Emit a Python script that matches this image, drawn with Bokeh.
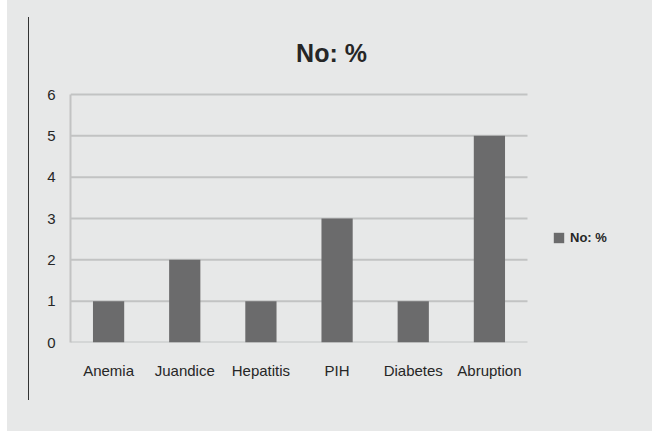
from bokeh.plotting import figure
from bokeh.models import (ColumnDataSource, Range1d, FixedTicker, Legend,
                          LegendItem, Label)
from bokeh.embed import file_html
from bokeh.resources import INLINE

# Data
categories = ["Anemia", "Juandice", "Hepatitis", "PIH", "Diabetes", "Abruption"]
values = [1, 2, 1, 3, 1, 5]
y_ticks = [0, 1, 2, 3, 4, 5, 6]
series_name = "No: %"

BG = "#e7e8e8"
GRID = "#c2c3c3"
BAR = "#6b6b6c"
TEXT = "#262626"
FONT = "Liberation Sans"

positions = list(range(len(categories)))
src = ColumnDataSource(dict(x=positions, val=values))

# geometry (pixels): the bar area is 457 px wide and 248 px tall, the
# drawing frame runs on to the right edge and up to the top of the figure
FIG_W, FIG_H = 652, 431
LEFT, BOTTOM = 70, 89
AREA_W, AREA_H = 457, 248
frame_w = FIG_W - LEFT
frame_h = FIG_H - BOTTOM
n = len(categories)
x_lo = -0.5
x_hi = x_lo + n * frame_w / AREA_W
y_top = y_ticks[-1] * frame_h / AREA_H

p = figure(width=FIG_W, height=FIG_H,
           x_range=Range1d(x_lo, x_hi), y_range=Range1d(0, y_top),
           output_backend="svg", toolbar_location=None,
           min_border_left=LEFT, min_border_right=0,
           min_border_top=0, min_border_bottom=BOTTOM)
# page background: white margin, thin dark rule on the left, grey panel
p.styles = {"background": "linear-gradient(#333333, #333333) 28px 17px / 1px 383px no-repeat, "
                          "linear-gradient(#ffffff, #ffffff) 0 0 / 7px 100% no-repeat, " + BG}
p.background_fill_color = None
p.border_fill_color = None
p.outline_line_color = None
p.grid.visible = False

# horizontal value lines across the category area
p.segment(x0=[x_lo] * len(y_ticks), x1=[x_lo + n] * len(y_ticks),
          y0=y_ticks, y1=y_ticks, line_color=GRID, line_width=2)

bars = p.vbar(x="x", top="val", width=0.41, source=src,
              fill_color=BAR, line_color=None)

# axes
p.xaxis.ticker = FixedTicker(ticks=positions)
p.xaxis.major_label_overrides = {i: c for i, c in zip(positions, categories)}
p.xaxis.axis_line_color = None
p.yaxis.ticker = FixedTicker(ticks=y_ticks)
p.yaxis.bounds = (y_ticks[0], y_ticks[-1])
p.yaxis.axis_line_color = GRID
p.yaxis.axis_line_width = 2
for ax in (p.xaxis[0], p.yaxis[0]):
    ax.major_tick_line_color = None
    ax.minor_tick_line_color = None
    ax.major_label_text_font = FONT
    ax.major_label_text_font_size = "15px"
    ax.major_label_text_color = TEXT
p.yaxis.major_label_standoff = 9
p.xaxis.major_label_standoff = 13

# title
p.add_layout(Label(x=261, y=290, x_units="screen", y_units="screen",
                   text=series_name, text_font=FONT, text_font_size="25px",
                   text_font_style="bold", text_color=TEXT,
                   text_align="center", text_baseline="middle"))

# legend to the right of the bars
legend = Legend(items=[LegendItem(label=series_name, renderers=[bars])],
                location=(482, 97), glyph_width=13, glyph_height=13,
                label_standoff=5, padding=0, margin=0, spacing=0,
                label_text_font=FONT, label_text_font_size="13px",
                label_text_font_style="bold", label_text_color=TEXT,
                border_line_color=None, background_fill_alpha=0)
p.add_layout(legend, "center")

open("out.html", "w").write(file_html(p, INLINE))
